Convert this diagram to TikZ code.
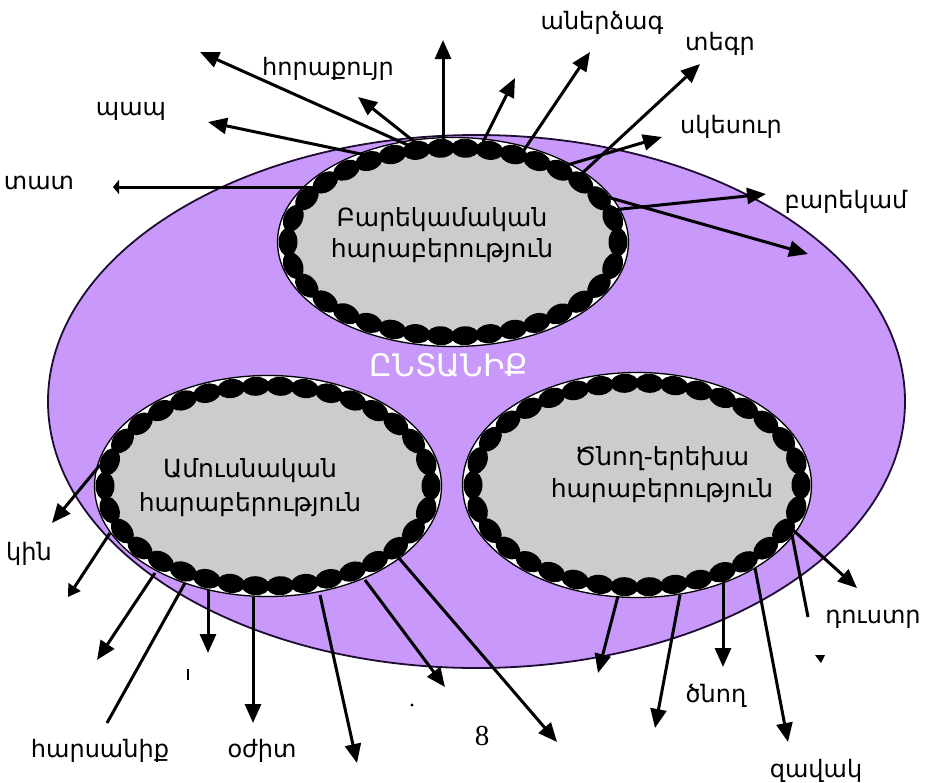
\documentclass[tikz,border=0pt]{standalone}
\usepackage{fontspec}
\setmainfont{DejaVu Sans}
\newfontfamily\numserif{Liberation Serif}
\usetikzlibrary{arrows.meta,decorations.markings}
\definecolor{famviolet}{RGB}{200,152,250}
\definecolor{ringgray}{RGB}{204,204,204}
\definecolor{rimdark}{RGB}{30,12,50}
\newcommand\famring[3]{%
  \draw[fill=white, line width=1.3pt] (#1) ellipse [x radius={#2pt+10.5pt}, y radius={#3pt+10.5pt}];
  \fill[ringgray] (#1) ellipse [x radius={#2pt-2pt}, y radius={#3pt-2pt}];
  \path[decorate, decoration={markings, mark=between positions 0 and 0.99 step 0.02941 with {\fill[black] (0,0) ellipse [x radius=14pt, y radius=9.5pt];}}] (#1) ellipse [x radius=#2pt, y radius=#3pt];
}
\begin{document}
\begin{tikzpicture}[x=1pt,y=-1pt,
  arr/.style={line width=3pt,-{Triangle[length=19pt,width=16pt]}},
  plainline/.style={line width=3pt},
  lbl/.style={font=\fontsize{24}{28}\selectfont, inner sep=0pt, anchor=base},
  ringtxt/.style={font=\fontsize{25}{30}\selectfont, inner sep=0pt, anchor=base}]
\useasboundingbox (0,0) rectangle (926,782);
\fill[white] (0,0) rectangle (926,782);

% family ellipse
\coordinate (famc) at (476.5,401.5);
\draw[fill=famviolet, line width=1.8pt, draw=rimdark] (famc) ellipse [x radius=428.5pt, y radius=266.5pt];

% rings
\coordinate (topc) at (453,242);
\coordinate (leftc) at (268,486);
\coordinate (rightc) at (637,485);
\famring{topc}{165}{94}
\famring{leftc}{163}{100}
\famring{rightc}{164}{102}

% ring texts
\node[ringtxt] (t1) at (442,226) {Բարեկամական};
\node[ringtxt] (t2) at (442,257) {հարաբերություն};
\node[ringtxt] (l1) at (250,477) {Ամուսնական};
\node[ringtxt] (l2) at (250,511) {հարաբերություն};
\node[ringtxt] (r1) at (662,465) {Ծնող-երեխա};
\node[ringtxt] (r2) at (662,497) {հարաբերություն};
\node[font=\fontsize{31}{36}\selectfont, text=white, inner sep=0pt, anchor=base] (fam) at (449,376) {ԸՆՏԱՆԻՔ};

% connector endpoints, top ring
\coordinate (t1s) at (443,140); \coordinate (t1e) at (443,40);
\coordinate (t2s) at (410,146); \coordinate (t2e) at (200,52);
\coordinate (t3s) at (416,143); \coordinate (t3e) at (358,97);
\coordinate (t4s) at (380,158); \coordinate (t4e) at (208,122);
\coordinate (t5s) at (325,187); \coordinate (t5e) at (113,187);
\coordinate (t6s) at (483,142); \coordinate (t6e) at (515,78);
\coordinate (t7s) at (522,153); \coordinate (t7e) at (590,52);
\coordinate (t8s) at (577,178); \coordinate (t8e) at (700,64);
\coordinate (t9s) at (557,168); \coordinate (t9e) at (662,137);
\coordinate (t10s) at (612,210); \coordinate (t10e) at (766,194);
\coordinate (t11s) at (600,195); \coordinate (t11e) at (808,254);
% left ring
\coordinate (l1s) at (100,465); \coordinate (l1e) at (52,523);
\coordinate (l2s) at (110,533); \coordinate (l2e) at (68,597);
\coordinate (l3s) at (155,573); \coordinate (l3e) at (97,660);
\coordinate (l4s) at (185,583); \coordinate (l4e) at (107,723);
\coordinate (l5s) at (208,590); \coordinate (l5e) at (208,653);
\coordinate (l6s) at (253,597); \coordinate (l6e) at (253,723);
\coordinate (l7s) at (320,595); \coordinate (l7e) at (357,763);
\coordinate (l8s) at (365,580); \coordinate (l8e) at (445,687);
\coordinate (l9s) at (398,557); \coordinate (l9e) at (557,742);
% right ring
\coordinate (r1s) at (618,596); \coordinate (r1e) at (598,673);
\coordinate (r2s) at (680,595); \coordinate (r2e) at (655,728);
\coordinate (r3s) at (723,580); \coordinate (r3e) at (723,667);
\coordinate (r4s) at (755,568); \coordinate (r4e) at (788,742);
\coordinate (r5s) at (793,530); \coordinate (r5e) at (857,588);
\coordinate (r6s) at (792,535); \coordinate (r6e) at (808,617);

\foreach \a in {t1,t2,t3,t4,t6,t7,t8,t9,t10,t11,l1,l3,l5,l6,l7,l8,l9,r1,r2,r3,r4,r5}
  \draw[arr] (\a s) -- (\a e);
\draw[line width=3pt,-{Triangle[length=12pt,width=14pt]}] (l2s) -- (l2e);
\draw[line width=3pt,-{Triangle[length=6pt,width=14pt]}] (t5s) -- (t5e);
\draw[plainline] (l4s) -- (l4e);
\draw[plainline] (r6s) -- (r6e);

% small marks
\coordinate (tickA) at (188,669); \coordinate (tickB) at (188,680);
\draw[line width=2.4pt] (tickA) -- (tickB);
\coordinate (dotA) at (412,705);
\fill (dotA) circle [radius=1.6pt];
\coordinate (triA) at (815,655); \coordinate (triB) at (825,655); \coordinate (triC) at (821,663);
\fill (triA) -- (triB) -- (triC) -- cycle;

% labels
\node[lbl] (aneradzag) at (602,29) {աներձագ};
\node[lbl] (tegr) at (720,50) {տեգր};
\node[lbl] (horakuyr) at (328,75) {հորաքույր};
\node[lbl] (pap) at (131,115) {պապ};
\node[lbl] (tat) at (39,189) {տատ};
\node[lbl] (skesur) at (731,133) {սկեսուր};
\node[lbl] (barekam) at (846,208) {բարեկամ};
\node[lbl] (kin) at (29,560) {կին};
\node[lbl] (harsanik) at (100,757) {հարսանիք};
\node[lbl] (ozhit) at (262,757) {օժիտ};
\node[lbl, font=\numserif\fontsize{29}{34}\selectfont] (eight) at (482,745) {8};
\node[lbl] (dustr) at (873,623) {դուստր};
\node[lbl] (tsnogh) at (716,702) {ծնող};
\node[lbl] (zavak) at (816,777) {զավակ};
\end{tikzpicture}
\end{document}
